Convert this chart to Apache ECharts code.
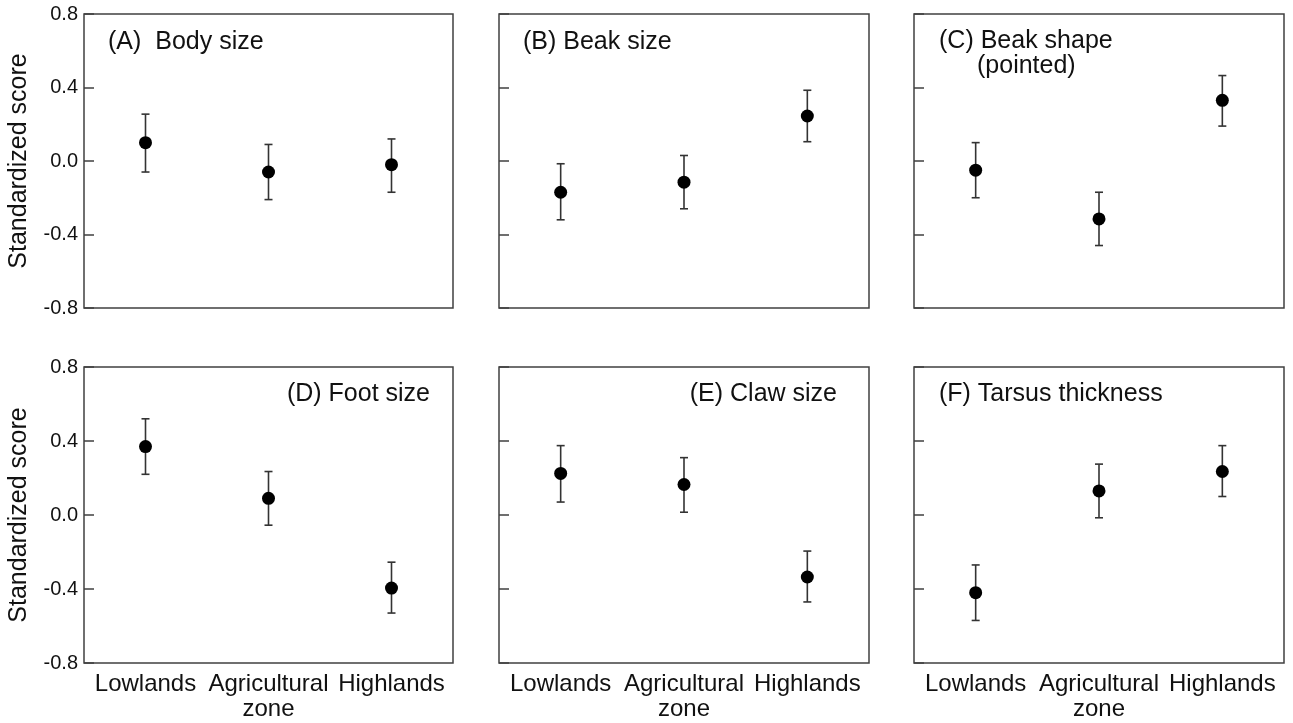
<!DOCTYPE html>
<html>
<head>
<meta charset="utf-8">
<script src="https://cdn.jsdelivr.net/npm/echarts@6/dist/echarts.min.js"></script>
<style>
html,body{margin:0;padding:0;background:#fff;}
#chart{width:1293px;height:723px;}
</style>
</head>
<body>
<div id="chart"></div>
<script>
// ---- data ----
const categories = ['Lowlands', 'Agricultural\nzone', 'Highlands'];
const yTicks = [-0.8, -0.4, 0.0, 0.4, 0.8];
const yAxisTitle = 'Standardized score';
const panelTitles = ['(A)  Body size', '(B) Beak size', '(C) Beak shape', '(D) Foot size', '(E) Claw size', '(F) Tarsus thickness'];
const panelSubtitleC = '(pointed)';

const bodySizeMean = [0.10, -0.06, -0.02];
const bodySizeLow  = [-0.06, -0.21, -0.17];
const bodySizeHigh = [0.255, 0.09, 0.12];

const beakSizeMean = [-0.17, -0.115, 0.245];
const beakSizeLow  = [-0.32, -0.26, 0.105];
const beakSizeHigh = [-0.015, 0.03, 0.385];

const beakShapeMean = [-0.05, -0.315, 0.33];
const beakShapeLow  = [-0.20, -0.46, 0.19];
const beakShapeHigh = [0.10, -0.17, 0.465];

const footSizeMean = [0.37, 0.09, -0.395];
const footSizeLow  = [0.22, -0.055, -0.53];
const footSizeHigh = [0.52, 0.235, -0.255];

const clawSizeMean = [0.225, 0.165, -0.335];
const clawSizeLow  = [0.07, 0.015, -0.47];
const clawSizeHigh = [0.375, 0.31, -0.195];

const tarsusMean = [-0.42, 0.13, 0.235];
const tarsusLow  = [-0.57, -0.015, 0.10];
const tarsusHigh = [-0.27, 0.275, 0.375];

// ---- layout ----
const panels = [
  {mean: bodySizeMean, low: bodySizeLow, high: bodySizeHigh},
  {mean: beakSizeMean, low: beakSizeLow, high: beakSizeHigh},
  {mean: beakShapeMean, low: beakShapeLow, high: beakShapeHigh},
  {mean: footSizeMean, low: footSizeLow, high: footSizeHigh},
  {mean: clawSizeMean, low: clawSizeLow, high: clawSizeHigh},
  {mean: tarsusMean, low: tarsusLow, high: tarsusHigh}
];
const lefts = [84, 499, 914];
const widths = [369, 370, 370];
const tops = [14, 367];
const heights = [294, 296];
const FONT = 'Liberation Sans, Arial, Helvetica, sans-serif';
const borderColor = '#404040';

const grids = [], xAxes = [], yAxes = [], series = [];
panels.forEach((p, i) => {
  const col = i % 3, row = Math.floor(i / 3);
  grids.push({
    left: lefts[col], top: tops[row], width: widths[col], height: heights[row],
    show: true, borderColor: borderColor, borderWidth: 1.5, backgroundColor: 'transparent'
  });
  xAxes.push({
    type: 'category', gridIndex: i, data: categories, boundaryGap: true,
    axisLine: {show: false}, axisTick: {show: false}, splitLine: {show: false},
    axisLabel: {show: row === 1, interval: 0, margin: 9, color: '#111',
      fontFamily: FONT, fontSize: 24, lineHeight: 25}
  });
  yAxes.push({
    type: 'value', gridIndex: i, min: -0.8, max: 0.8, interval: 0.4,
    axisLine: {show: false},
    axisTick: {show: true, inside: true, length: 10, lineStyle: {color: borderColor, width: 1.5}},
    splitLine: {show: false},
    axisLabel: {show: col === 0, margin: 6, color: '#111', fontFamily: FONT, fontSize: 20,
      formatter: v => v.toFixed(1)},
    name: col === 0 ? yAxisTitle : '', nameLocation: 'middle', nameGap: 52,
    nameTextStyle: {color: '#111', fontFamily: FONT, fontSize: 25}
  });
  series.push({
    type: 'custom', xAxisIndex: i, yAxisIndex: i,
    data: p.mean.map((m, k) => [k, p.low[k], p.high[k]]),
    renderItem: function (params, api) {
      const lo = api.coord([api.value(0), api.value(1)]);
      const hi = api.coord([api.value(0), api.value(2)]);
      const cw = 4;
      const st = {stroke: '#333', lineWidth: 1.6};
      return {type: 'group', children: [
        {type: 'line', shape: {x1: lo[0], y1: lo[1], x2: hi[0], y2: hi[1]}, style: st},
        {type: 'line', shape: {x1: lo[0] - cw, y1: lo[1], x2: lo[0] + cw, y2: lo[1]}, style: st},
        {type: 'line', shape: {x1: hi[0] - cw, y1: hi[1], x2: hi[0] + cw, y2: hi[1]}, style: st}
      ]};
    },
    z: 2
  });
  series.push({
    type: 'scatter', xAxisIndex: i, yAxisIndex: i,
    data: p.mean.map((m, k) => [k, m]),
    symbol: 'circle', symbolSize: 13,
    itemStyle: {color: '#000', opacity: 1},
    z: 3
  });
});

const txt = (text, x, y, align) => ({
  type: 'text', x: x, y: y,
  style: {text: text, fill: '#111', font: '25px ' + FONT, align: align || 'left', verticalAlign: 'middle'}
});

const graphics = [
  txt(panelTitles[0], 108, 42),
  txt(panelTitles[1], 523, 42),
  txt(panelTitles[2], 939, 41),
  txt(panelSubtitleC, 977, 66),
  txt(panelTitles[3], 430, 394, 'right'),
  txt(panelTitles[4], 837, 394, 'right'),
  txt(panelTitles[5], 939, 394)
];

const chart = echarts.init(document.getElementById('chart'), null, {renderer: 'canvas'});
chart.setOption({
  animation: false,
  backgroundColor: '#fff',
  grid: grids, xAxis: xAxes, yAxis: yAxes, series: series,
  graphic: graphics
});
</script>
</body>
</html>
